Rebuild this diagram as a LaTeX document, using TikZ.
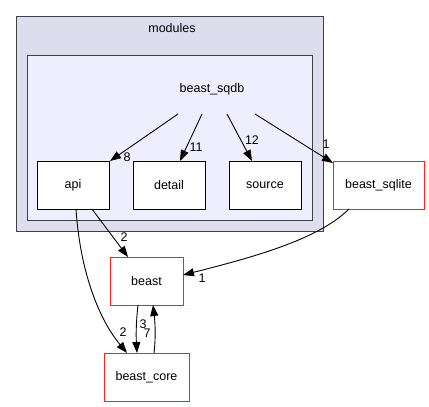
\documentclass[tikz,border=0pt]{standalone}
\usepackage{fontspec}
\setmainfont{Liberation Sans}
\usetikzlibrary{arrows.meta}
\definecolor{outerfill}{HTML}{DDDDEE}
\definecolor{innerfill}{HTML}{EEEEFF}
\definecolor{clusterline}{HTML}{404040}
\definecolor{extred}{HTML}{FF2020}
\begin{document}
\begin{tikzpicture}[x=1pt,y=-1pt,
  every node/.style={font=\fontsize{12.5}{15}\selectfont, inner sep=0pt, outer sep=0pt},
  dirbox/.style={draw=black, fill=white, line width=1pt, minimum width=72pt, minimum height=48pt},
  extbox/.style={draw=extred, fill=white, line width=1pt, minimum height=48pt},
  clusterbox/.style={draw=clusterline, line width=1pt},
  dep/.style={draw=black, line width=0.9pt, -{Triangle[length=11pt,width=8pt]}},
  cnt/.style={font=\fontsize{12.5}{15}\selectfont}
]
\useasboundingbox (0,0) rectangle (429,407);
\fill[white] (0,0) rectangle (429,407);
% clusters
\node[clusterbox, fill=outerfill, minimum width=307pt, minimum height=215pt] (modules) at (169.5,123.5) {};
\node (moduleslabel) at (172,28) {modules};
\node[clusterbox, fill=innerfill, minimum width=285pt, minimum height=165pt] (sqdbcluster) at (169.5,137.5) {};
\node[minimum width=90pt, minimum height=50pt] (sqdb) at (212,89) {beast\_sqdb};
% nodes
\node[dirbox] (api) at (73,185) {api};
\node[dirbox] (detail) at (169,185) {detail};
\node[dirbox] (source) at (265,185) {source};
\node[extbox, minimum width=91pt] (sqlite) at (378.5,185) {beast\_sqlite};
\node[extbox, minimum width=73pt] (beast) at (146.5,281) {beast};
\node[extbox, minimum width=85pt] (core) at (146.5,377) {beast\_core};
% edges
\draw[dep] ([xshift=-34pt]sqdb.south) -- ([xshift=1pt]api.north east);
\node[cnt] (l8) at (127,157) {8};
\draw[dep] ([xshift=-10pt]sqdb.south) -- ([xshift=11pt]detail.north);
\node[cnt] (l11) at (196,147) {11};
\draw[dep] ([xshift=15pt]sqdb.south) -- ([xshift=-13pt]source.north);
\node[cnt] (l12) at (252,140) {12};
\draw[dep] ([xshift=43pt]sqdb.south) -- ([yshift=-2pt]sqlite.north west);
\node[cnt] (l1a) at (326,144) {1};
\draw[dep] ([xshift=19pt]api.south) -- ([xshift=-18.5pt]beast.north);
\node[cnt] (l2a) at (124,237) {2};
\draw[dep] ([xshift=3pt]api.south) .. controls (80,270) and (98,318) .. ([xshift=-19.5pt]core.north);
\node[cnt] (l2b) at (123,332) {2};
\draw[dep] ([xshift=-29.5pt]sqlite.south) .. controls (318,240) and (250,258) .. ([yshift=6pt]beast.east);
\node[cnt] (l1b) at (202,278) {1};
\draw[dep] ([xshift=-8.5pt]beast.south) .. controls (136,322) and (136,336) .. ([xshift=-9.5pt]core.north);
\node[cnt] (l3) at (143,324) {3};
\draw[dep] ([xshift=7.5pt]core.north) .. controls (156,336) and (155,322) .. ([xshift=6.5pt]beast.south);
\node[cnt] (l7) at (147,333) {7};
\end{tikzpicture}
\end{document}
